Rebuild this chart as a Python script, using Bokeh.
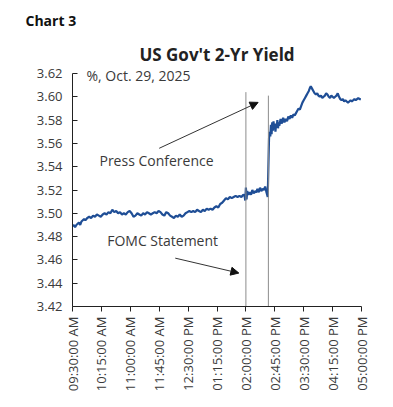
from bokeh.plotting import figure
from bokeh.models import (Title, Label, Arrow, NormalHead, FixedTicker,
                          ColumnDataSource, Range1d, NumeralTickFormatter)
from bokeh.embed import file_html
from bokeh.resources import INLINE

# minutes since 09:30 AM
minutes = [0, 2, 4, 6, 8, 10, 12, 14, 16, 18, 20, 23, 26, 29, 32, 35, 38, 41, 44, 47,
           50, 53, 56, 59, 62, 65, 68, 71, 74, 77, 80, 83, 86, 89, 92, 95, 98, 101, 104, 107,
           110, 113, 116, 119, 122, 125, 128, 131, 134, 137, 140, 143, 146, 149, 152, 155, 158, 161, 164, 167,
           170, 173, 176, 179, 182, 185, 188, 191, 194, 197, 200, 203, 206, 209, 212, 215, 218, 221, 224, 227,
           230, 233, 236, 239, 242, 245, 248, 251, 254, 257, 260, 263, 266, 268, 269, 270, 271, 272, 274, 276,
           278, 280, 282, 284, 286, 288, 290, 292, 294, 296, 298, 300, 302, 304, 305, 306, 307, 308, 309, 310,
           311, 312, 313, 314, 315, 316, 317, 318, 319, 320, 321, 322, 324, 326, 328, 330, 332, 334, 336, 338,
           340, 342, 344, 346, 348, 350, 352, 354, 356, 358, 360, 362, 364, 366, 368, 370, 371, 373, 375, 377,
           379, 381, 383, 385, 387, 389, 391, 393, 395, 397, 399, 401, 403, 405, 407, 409, 411, 413, 415, 417,
           419, 421, 423, 425, 427, 429, 431, 433, 435, 437, 439, 441, 443, 445, 447, 449]
yields = [3.489, 3.490, 3.488, 3.490, 3.491, 3.492, 3.490, 3.493, 3.494, 3.495, 3.494, 3.496, 3.497, 3.496, 3.498, 3.497, 3.499, 3.498, 3.497, 3.499,
          3.500, 3.499, 3.501, 3.500, 3.503, 3.501, 3.502, 3.500, 3.501, 3.499, 3.500, 3.499, 3.501, 3.502, 3.500, 3.497, 3.498, 3.500, 3.499, 3.498,
          3.500, 3.499, 3.501, 3.500, 3.499, 3.500, 3.501, 3.500, 3.502, 3.501, 3.499, 3.498, 3.501, 3.500, 3.498, 3.497, 3.496, 3.498, 3.497, 3.499,
          3.497, 3.498, 3.500, 3.501, 3.502, 3.501, 3.502, 3.501, 3.503, 3.502, 3.501, 3.503, 3.502, 3.504, 3.503, 3.504, 3.503, 3.505, 3.506, 3.505,
          3.508, 3.509, 3.511, 3.513, 3.512, 3.514, 3.513, 3.514, 3.515, 3.514, 3.515, 3.514, 3.516, 3.515, 3.511, 3.522, 3.512, 3.519, 3.516, 3.518,
          3.516, 3.520, 3.517, 3.519, 3.518, 3.521, 3.518, 3.522, 3.519, 3.521, 3.520, 3.523, 3.518, 3.514, 3.540, 3.564, 3.570, 3.566, 3.576, 3.568,
          3.578, 3.571, 3.579, 3.572, 3.577, 3.570, 3.576, 3.574, 3.580, 3.573, 3.578, 3.575, 3.581, 3.577, 3.582, 3.578, 3.581, 3.579, 3.583, 3.581,
          3.584, 3.582, 3.585, 3.584, 3.586, 3.588, 3.590, 3.589, 3.592, 3.595, 3.597, 3.599, 3.601, 3.603, 3.605, 3.608, 3.609, 3.607, 3.605, 3.603,
          3.602, 3.603, 3.601, 3.600, 3.601, 3.599, 3.600, 3.601, 3.603, 3.602, 3.600, 3.599, 3.601, 3.600, 3.599, 3.600, 3.601, 3.603, 3.600, 3.598,
          3.597, 3.598, 3.596, 3.597, 3.596, 3.595, 3.596, 3.597, 3.596, 3.597, 3.598, 3.597, 3.598, 3.599, 3.598, 3.598]

tick_minutes = [0, 45, 90, 135, 180, 225, 270, 315, 360, 405, 450]
tick_labels = ["09:30:00 AM", "10:15:00 AM", "11:00:00 AM", "11:45:00 AM", "12:30:00 PM",
               "01:15:00 PM", "02:00:00 PM", "02:45:00 PM", "03:30:00 PM", "04:15:00 PM",
               "05:00:00 PM"]
y_ticks = [3.42, 3.44, 3.46, 3.48, 3.50, 3.52, 3.54, 3.56, 3.58, 3.60, 3.62]

event_minutes = [270, 305]       # FOMC statement 2:00 PM, press conference
event_tops = [3.604, 3.601]

FONT = "Open Sans"
TXT = "#3a3a3a"
Y_TOP = 3.62 + 4 / 233 * 0.2   # a few px of headroom so the subtitle is not clipped

p = figure(frame_width=289, frame_height=237, output_backend="svg", toolbar_location=None,
           x_range=Range1d(0, 450), y_range=Range1d(3.42, Y_TOP),
           min_border_left=72, min_border_right=16, min_border_bottom=93, min_border_top=0)
p.title = None
p.outline_line_color = None
p.grid.visible = False
p.background_fill_color = "white"
p.border_fill_color = "white"

t1 = Title(text="US Gov't 2-Yr Yield", align="center", text_font=FONT, text_font_size="17px",
           text_font_style="bold", text_color="#222222", standoff=7)
t0 = Title(text="Chart 3", align="left", text_font=FONT, text_font_size="14px",
           text_font_style="bold", text_color="#111111", offset=-47, standoff=16)
p.add_layout(t1, "above")
p.add_layout(t0, "above")

src = ColumnDataSource(dict(x=minutes, y=yields))
p.line("x", "y", source=src, line_color="#1f4e96", line_width=2.2)

vsrc = ColumnDataSource(dict(x=event_minutes, y0=[3.42, 3.42], y1=event_tops))
p.segment(x0="x", y0="y0", x1="x", y1="y1", source=vsrc, line_color="#8c8c8c", line_width=1)

xa = p.xaxis[0]
xa.ticker = FixedTicker(ticks=tick_minutes)
xa.major_label_overrides = {m: l for m, l in zip(tick_minutes, tick_labels)}
xa.major_label_orientation = 3.14159265 / 2
xa.major_tick_in = 0
xa.major_tick_out = 5
xa.minor_tick_line_color = None
xa.axis_line_color = "#222222"
xa.major_tick_line_color = "#222222"
xa.major_label_text_font = FONT
xa.major_label_text_font_size = "13px"
xa.major_label_text_color = TXT

ya = p.yaxis[0]
ya.ticker = FixedTicker(ticks=y_ticks)
ya.bounds = (3.42, 3.62)
ya.formatter = NumeralTickFormatter(format="0.00")
ya.major_tick_in = 5
ya.major_tick_out = 0
ya.minor_tick_line_color = None
ya.axis_line_color = "#222222"
ya.major_tick_line_color = "#222222"
ya.major_label_text_font = FONT
ya.major_label_text_font_size = "13px"
ya.major_label_text_color = TXT
ya.major_label_standoff = 10

p.add_layout(Label(x=14, y=231, x_units="screen", y_units="screen", level="overlay",
                   text="%, Oct. 29, 2025", text_font=FONT, text_font_size="14px",
                   text_color=TXT, text_baseline="middle"))
p.add_layout(Label(x=42, y=3.5455, text="Press Conference", text_font=FONT, text_font_size="14px",
                   text_color=TXT, text_baseline="middle"))
p.add_layout(Label(x=54, y=3.4765, text="FOMC Statement", text_font=FONT, text_font_size="14px",
                   text_color=TXT, text_baseline="middle"))

p.add_layout(Arrow(x_start=135, y_start=3.5558, x_end=289, y_end=3.5952,
                   line_color="#333333", line_width=1,
                   end=NormalHead(size=8, fill_color="#111111", line_color="#111111")))
p.add_layout(Arrow(x_start=160, y_start=3.4615, x_end=259, y_end=3.4487,
                   line_color="#333333", line_width=1,
                   end=NormalHead(size=8, fill_color="#111111", line_color="#111111")))

open("out.html", "w").write(file_html(p, INLINE))
